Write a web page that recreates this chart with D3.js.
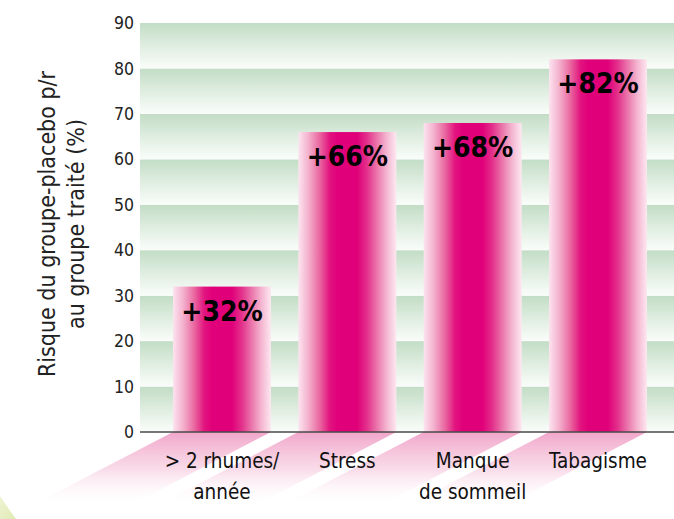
<!DOCTYPE html>
<html>
<head>
<meta charset="utf-8">
<script src="https://cdn.jsdelivr.net/npm/d3@7"></script>
<style>
  html, body { margin: 0; padding: 0; background: #ffffff; }
  svg { display: block; }
</style>
</head>
<body>
<div id="chart"></div>
<script>
// ---- data ----
const categories = ["> 2 rhumes/ année", "Stress", "Manque de sommeil", "Tabagisme"];
const categoryLines = [["> 2 rhumes/", "année"], ["Stress"], ["Manque", "de sommeil"], ["Tabagisme"]];
const values = [32, 66, 68, 82];
const valueLabels = ["+32%", "+66%", "+68%", "+82%"];
const yTicks = [0, 10, 20, 30, 40, 50, 60, 70, 80, 90];
const yTitleLines = ["Risque du groupe-placebo p/r", "au groupe traité (%)"];

// ---- layout ----
const W = 674, H = 519;
const plotLeft = 140, plotRight = 674, plotTop = 23, plotBottom = 432;

const svg = d3.select("#chart").append("svg").attr("width", W).attr("height", H);
const defs = svg.append("defs");

const y = d3.scaleLinear().domain([0, 90]).range([plotBottom, plotTop]);
const x = d3.scaleBand().domain(categories).range([173, 647]).paddingInner(0.218).paddingOuter(0);

// gradients
const bandGrad = defs.append("linearGradient").attr("id", "bandGrad").attr("x1", 0).attr("y1", 0).attr("x2", 0).attr("y2", 1);
bandGrad.append("stop").attr("offset", 0).attr("stop-color", "#c2ddc5");
bandGrad.append("stop").attr("offset", 0.55).attr("stop-color", "#e2efe3");
bandGrad.append("stop").attr("offset", 1).attr("stop-color", "#fafdfa");

const barGrad = defs.append("linearGradient").attr("id", "barGrad").attr("x1", 0).attr("y1", 0).attr("x2", 1).attr("y2", 0);
[[0, "#fce4ef"], [0.1, "#f4b3cf"], [0.22, "#e9669f"], [0.32, "#e2147f"], [0.4, "#e0007a"],
 [0.6, "#e0007a"], [0.7, "#e3308b"], [0.8, "#ea74aa"], [0.9, "#f4b5d0"], [1, "#fde8f1"]]
  .forEach(([o, c]) => barGrad.append("stop").attr("offset", o).attr("stop-color", c));

const shadowGrad = defs.append("linearGradient").attr("id", "shadowGrad")
  .attr("gradientUnits", "userSpaceOnUse").attr("x1", 0).attr("y1", plotBottom).attr("x2", 0).attr("y2", 506);
shadowGrad.append("stop").attr("offset", 0).attr("stop-color", "#ef9cc4").attr("stop-opacity", 0.9);
shadowGrad.append("stop").attr("offset", 0.5).attr("stop-color", "#f5c3da").attr("stop-opacity", 0.6);
shadowGrad.append("stop").attr("offset", 1).attr("stop-color", "#ffffff").attr("stop-opacity", 0);

const cornerGrad = defs.append("linearGradient").attr("id", "cornerGrad").attr("x1", 0).attr("y1", 0).attr("x2", 1).attr("y2", 1);
cornerGrad.append("stop").attr("offset", 0).attr("stop-color", "#eef3d2");
cornerGrad.append("stop").attr("offset", 1).attr("stop-color", "#dfeab4");

// corner decoration
svg.append("path")
  .attr("d", "M0,496 Q8,508 16,519 L0,519 Z")
  .attr("fill", "url(#cornerGrad)");

// background bands
const bands = yTicks.slice(1);
svg.append("g").selectAll("rect").data(bands).join("rect")
  .attr("x", plotLeft)
  .attr("y", d => y(d))
  .attr("width", plotRight - plotLeft)
  .attr("height", d => y(d - 10) - y(d))
  .attr("fill", "url(#bandGrad)");

// shadows beneath bars
const shH = 74, shDx = shH / 0.52;
svg.append("g").selectAll("path").data(categories).join("path")
  .attr("d", d => {
    const x0 = x(d), x1 = x(d) + x.bandwidth();
    return `M${x0},${plotBottom} L${x1},${plotBottom} L${x1 - shDx},${plotBottom + shH} L${x0 - shDx},${plotBottom + shH} Z`;
  })
  .attr("fill", "url(#shadowGrad)");

// bars
svg.append("g").selectAll("rect").data(values).join("rect")
  .attr("x", (d, i) => x(categories[i]))
  .attr("y", d => y(d))
  .attr("width", x.bandwidth())
  .attr("height", d => y(0) - y(d))
  .attr("fill", "url(#barGrad)");

// value labels
svg.append("g").selectAll("text").data(values).join("text")
  .attr("x", (d, i) => x(categories[i]) + x.bandwidth() / 2)
  .attr("y", d => y(d) + 34)
  .attr("text-anchor", "middle")
  .attr("font-family", "'DejaVu Sans Condensed', 'DejaVu Sans', sans-serif")
  .attr("font-weight", "bold")
  .attr("font-size", 28)
  .attr("fill", "#000")
  .text((d, i) => valueLabels[i]);

// x axis line
svg.append("line")
  .attr("x1", plotLeft).attr("x2", plotRight)
  .attr("y1", plotBottom).attr("y2", plotBottom)
  .attr("stroke", "#4a4a4a").attr("stroke-width", 1.5);

// y axis labels via d3 axis
const yAxis = d3.axisLeft(y).tickValues(yTicks).tickSize(0).tickPadding(0).tickFormat(d3.format("d"));
const yg = svg.append("g").attr("transform", `translate(${plotLeft - 6},0)`).call(yAxis);
yg.select(".domain").remove();
yg.selectAll("text")
  .attr("font-family", "'DejaVu Sans Condensed', 'DejaVu Sans', sans-serif")
  .attr("font-size", 17.5)
  .attr("fill", "#222");

// category labels
const cg = svg.append("g");
categories.forEach((c, i) => {
  const t = cg.append("text")
    .attr("x", x(c) + x.bandwidth() / 2)
    .attr("y", 468)
    .attr("text-anchor", "middle")
    .attr("font-family", "'DejaVu Sans Condensed', 'DejaVu Sans', sans-serif")
    .attr("font-size", 20.5)
    .attr("fill", "#111");
  categoryLines[i].forEach((line, j) => {
    t.append("tspan").attr("x", x(c) + x.bandwidth() / 2).attr("dy", j === 0 ? 0 : 31).text(line);
  });
});

// y title
const cy = 224;
yTitleLines.forEach((line, j) => {
  svg.append("text")
    .attr("transform", `translate(${55 + j * 29},${cy}) rotate(-90)`)
    .attr("text-anchor", "middle")
    .attr("font-family", "'DejaVu Sans Condensed', 'DejaVu Sans', sans-serif")
    .attr("font-size", 23)
    .attr("fill", "#222")
    .text(line);
});
</script>
</body>
</html>
